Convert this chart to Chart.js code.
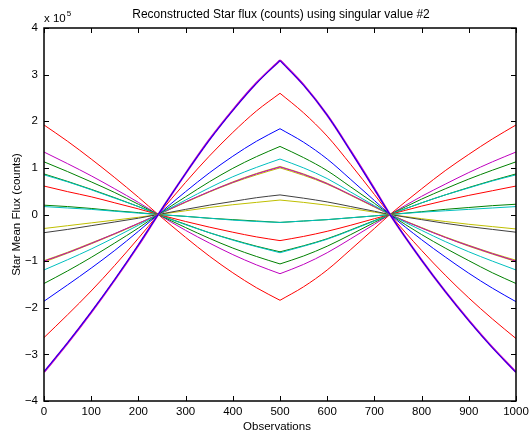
<!DOCTYPE html>
<html>
<head>
<meta charset="utf-8">
<script src="https://cdn.jsdelivr.net/npm/chart.js@4.4.1/dist/chart.umd.min.js"></script>
<style>
  html, body { margin: 0; padding: 0; background: #ffffff; }
  canvas { display: block; }
</style>
</head>
<body>
<canvas id="chart" width="530" height="434"></canvas>
<script>
// Observation index at which each flux sample is given
const observations = [0, 50, 100, 150, 200, 242, 300, 350, 400, 450, 500, 550, 600, 650, 700, 733, 800, 850, 900, 950, 1000];
// Observation where every curve has its sharp turning point
const turnObservation = 500;

// Reconstructed star flux, in units of 1e5 counts
const fluxBlueA    = [-3.37, -2.75, -2.09, -1.39, -0.65, 0, 0.88, 1.59, 2.23, 2.81, 3.30, 2.77, 2.13, 1.35, 0.54, 0, -0.98, -1.65, -2.28, -2.86, -3.39];
const fluxMagentaA = [-3.38, -2.76, -2.10, -1.40, -0.66, 0, 0.88, 1.60, 2.24, 2.82, 3.31, 2.78, 2.13, 1.36, 0.55, 0, -0.98, -1.65, -2.27, -2.85, -3.38];
const fluxRedA     = [-2.64, -2.15, -1.64, -1.09, -0.51, 0, 0.69, 1.25, 1.76, 2.22, 2.60, 2.18, 1.68, 1.07, 0.43, 0, -0.77, -1.30, -1.79, -2.24, -2.66];
const fluxBlueB    = [-1.86, -1.51, -1.15, -0.77, -0.36, 0, 0.49, 0.89, 1.25, 1.57, 1.84, 1.55, 1.19, 0.75, 0.30, 0, -0.54, -0.91, -1.26, -1.58, -1.87];
const fluxGreenA   = [-1.48, -1.21, -0.92, -0.61, -0.29, 0, 0.38, 0.70, 0.99, 1.24, 1.46, 1.22, 0.94, 0.59, 0.24, 0, -0.43, -0.72, -0.99, -1.25, -1.48];
const fluxCyanA    = [-1.19, -0.97, -0.74, -0.49, -0.23, 0, 0.31, 0.57, 0.81, 1.01, 1.19, 1.00, 0.77, 0.48, 0.19, 0, -0.34, -0.58, -0.80, -1.00, -1.19];
const fluxYellowA  = [-1.02, -0.83, -0.63, -0.42, -0.20, 0, 0.27, 0.49, 0.70, 0.88, 1.03, 0.87, 0.67, 0.42, 0.17, 0, -0.29, -0.49, -0.68, -0.85, -1.01];
const fluxMagentaB = [-1.00, -0.82, -0.62, -0.41, -0.19, 0, 0.27, 0.49, 0.69, 0.87, 1.02, 0.86, 0.66, 0.42, 0.17, 0, -0.29, -0.49, -0.67, -0.84, -1.00];
const fluxYellowB  = [-0.99, -0.81, -0.61, -0.41, -0.19, 0, 0.26, 0.48, 0.68, 0.85, 1.00, 0.84, 0.65, 0.41, 0.16, 0, -0.28, -0.48, -0.66, -0.83, -0.98];
const fluxBlack    = [-0.39, -0.32, -0.24, -0.16, -0.08, 0, 0.11, 0.20, 0.28, 0.36, 0.42, 0.35, 0.27, 0.17, 0.07, 0, -0.11, -0.19, -0.26, -0.32, -0.38];
const fluxYellowC  = [-0.30, -0.24, -0.18, -0.12, -0.06, 0, 0.08, 0.15, 0.21, 0.26, 0.31, 0.26, 0.20, 0.13, 0.05, 0, -0.09, -0.15, -0.21, -0.26, -0.31];
const fluxGreenB   = [0.20, 0.17, 0.13, 0.08, 0.04, 0, -0.04, -0.08, -0.11, -0.14, -0.17, -0.14, -0.11, -0.07, -0.03, 0, 0.06, 0.11, 0.15, 0.19, 0.22];
const fluxCyanB    = [0.17, 0.14, 0.11, 0.07, 0.03, 0, -0.04, -0.08, -0.12, -0.15, -0.17, -0.14, -0.11, -0.07, -0.03, 0, 0.05, 0.08, 0.11, 0.14, 0.17];
const fluxRedB     = [0.61, 0.49, 0.38, 0.25, 0.12, 0, -0.15, -0.27, -0.38, -0.48, -0.56, -0.47, -0.36, -0.23, -0.09, 0, 0.18, 0.30, 0.41, 0.51, 0.61];
const fluxGreenC   = [0.87, 0.71, 0.54, 0.36, 0.17, 0, -0.21, -0.39, -0.54, -0.68, -0.80, -0.67, -0.52, -0.33, -0.13, 0, 0.25, 0.42, 0.58, 0.73, 0.87];
const fluxCyanC    = [0.85, 0.70, 0.53, 0.35, 0.17, 0, -0.22, -0.39, -0.55, -0.69, -0.82, -0.68, -0.53, -0.34, -0.14, 0, 0.25, 0.42, 0.57, 0.72, 0.85];
const fluxGreenD   = [1.13, 0.92, 0.70, 0.47, 0.22, 0, -0.28, -0.51, -0.72, -0.90, -1.06, -0.89, -0.68, -0.43, -0.17, 0, 0.33, 0.55, 0.76, 0.95, 1.13];
const fluxMagentaC = [1.34, 1.09, 0.83, 0.55, 0.26, 0, -0.34, -0.61, -0.86, -1.08, -1.27, -1.07, -0.82, -0.52, -0.21, 0, 0.39, 0.65, 0.90, 1.13, 1.34];
const fluxRedC     = [1.92, 1.57, 1.19, 0.79, 0.37, 0, -0.49, -0.89, -1.25, -1.57, -1.84, -1.55, -1.19, -0.75, -0.30, 0, 0.55, 0.94, 1.29, 1.62, 1.92];

// Axis ticks
const xTicks = [0, 100, 200, 300, 400, 500, 600, 700, 800, 900, 1000];
const yTicks = [-4, -3, -2, -1, 0, 1, 2, 3, 4];

// Line colours (MATLAB-style default palette)
const C = {
  b: 'rgb(0,0,255)', g: 'rgb(0,128,0)', r: 'rgb(255,0,0)', c: 'rgb(0,191,191)',
  m: 'rgb(191,0,191)', y: 'rgb(191,191,0)', k: 'rgb(64,64,64)'
};

// Series table: later rows are painted on top
const series = [
  { data: fluxRedC,     color: C.r, width: 1 },
  { data: fluxMagentaC, color: C.m, width: 1 },
  { data: fluxGreenD,   color: C.g, width: 1 },
  { data: fluxGreenC,   color: C.g, width: 1 },
  { data: fluxCyanC,    color: C.c, width: 1 },
  { data: fluxRedB,     color: C.r, width: 1 },
  { data: fluxGreenB,   color: C.g, width: 1 },
  { data: fluxCyanB,    color: C.c, width: 1 },
  { data: fluxYellowC,  color: C.y, width: 1 },
  { data: fluxBlack,    color: C.k, width: 1 },
  { data: fluxYellowA,  color: C.y, width: 1 },
  { data: fluxYellowB,  color: C.y, width: 1 },
  { data: fluxMagentaB, color: C.m, width: 1 },
  { data: fluxCyanA,    color: C.c, width: 1 },
  { data: fluxGreenA,   color: C.g, width: 1 },
  { data: fluxBlueB,    color: C.b, width: 1 },
  { data: fluxRedA,     color: C.r, width: 1 },
  { data: fluxMagentaA, color: C.m, width: 2 },
  { data: fluxBlueA,    color: C.b, width: 1 }
];

const FONT = '"Liberation Sans", Arial, Helvetica, sans-serif';
const fmtTick = v => (v < 0 ? '\u2212' + Math.abs(v) : String(v));

// Each curve is drawn as two smooth halves that meet in a sharp corner at the turning point
const turnIndex = observations.indexOf(turnObservation);
const datasets = [];
series.forEach((s, i) => {
  const pts = observations.map((x, j) => ({ x: x, y: s.data[j] }));
  [pts.slice(0, turnIndex + 1), pts.slice(turnIndex)].forEach(part => {
    datasets.push({
      data: part,
      borderColor: s.color,
      borderWidth: s.width,
      pointRadius: 0,
      fill: false,
      cubicInterpolationMode: 'monotone',
      order: series.length - i
    });
  });
});

// Box frame with inward ticks on all four sides, plus title and axis labels
const matlabFrame = {
  id: 'matlabFrame',
  afterDatasetsDraw(chart) {
    const ctx = chart.ctx;
    const a = chart.chartArea;
    const xs = chart.scales.x, ys = chart.scales.y;
    const L = 5;
    ctx.save();
    ctx.strokeStyle = '#000';
    ctx.lineWidth = 1;
    ctx.beginPath();
    xTicks.forEach(v => {
      const p = Math.round(xs.getPixelForValue(v)) + 0.5;
      ctx.moveTo(p, a.bottom); ctx.lineTo(p, a.bottom - L);
      ctx.moveTo(p, a.top); ctx.lineTo(p, a.top + L);
    });
    yTicks.forEach(v => {
      const p = Math.round(ys.getPixelForValue(v)) + 0.5;
      ctx.moveTo(a.left, p); ctx.lineTo(a.left + L, p);
      ctx.moveTo(a.right, p); ctx.lineTo(a.right - L, p);
    });
    ctx.stroke();
    ctx.lineWidth = 1.5;
    ctx.strokeRect(a.left, a.top, a.right - a.left, a.bottom - a.top);
    ctx.restore();
  },
  afterDraw(chart) {
    const ctx = chart.ctx;
    const a = chart.chartArea;
    const cx = (a.left + a.right) / 2;
    ctx.save();
    ctx.fillStyle = '#000';
    ctx.textBaseline = 'alphabetic';

    ctx.font = '12px ' + FONT;
    ctx.textAlign = 'center';
    ctx.fillText('Reconstructed Star flux (counts) using singular value #2', cx + 1, 18);

    ctx.font = '11.5px ' + FONT;
    ctx.fillText('Observations', cx - 3, 430);

    ctx.textAlign = 'left';
    ctx.fillText('x 10', a.left, 21.5);
    const w = ctx.measureText('x 10').width;
    ctx.font = '8px ' + FONT;
    ctx.fillText('5', a.left + w + 1, 15.5);

    ctx.font = '11.5px ' + FONT;
    ctx.translate(19.5, (a.top + a.bottom) / 2);
    ctx.rotate(-Math.PI / 2);
    ctx.textAlign = 'center';
    ctx.fillText('Star Mean Flux (counts)', 0, 0);
    ctx.restore();
  }
};

new Chart(document.getElementById('chart'), {
  type: 'line',
  data: { datasets: datasets },
  options: {
    responsive: false,
    animation: false,
    devicePixelRatio: 1,
    layout: { padding: { top: 28, right: 14, left: 0, bottom: 0 } },
    plugins: { legend: { display: false }, tooltip: { enabled: false }, title: { display: false } },
    scales: {
      x: {
        type: 'linear',
        min: 0, max: 1000,
        grid: { display: false, drawTicks: false, tickLength: 0 },
        border: { display: false },
        afterBuildTicks: s => { s.ticks = xTicks.map(v => ({ value: v })); },
        afterFit: s => { s.height = 33; s.paddingLeft = 0; s.paddingRight = 0; },
        ticks: { color: '#000', font: { family: FONT, size: 11.5 }, padding: 4, maxRotation: 0, autoSkip: false, callback: v => fmtTick(v) }
      },
      y: {
        type: 'linear',
        min: -4, max: 4,
        grid: { display: false, drawTicks: false, tickLength: 0 },
        border: { display: false },
        afterBuildTicks: s => { s.ticks = yTicks.map(v => ({ value: v })); },
        afterFit: s => { s.width = 44; s.paddingTop = 0; s.paddingBottom = 0; },
        ticks: { color: '#000', font: { family: FONT, size: 11.5 }, padding: 6, autoSkip: false, callback: v => fmtTick(v) }
      }
    }
  },
  plugins: [matlabFrame]
});
</script>
</body>
</html>
